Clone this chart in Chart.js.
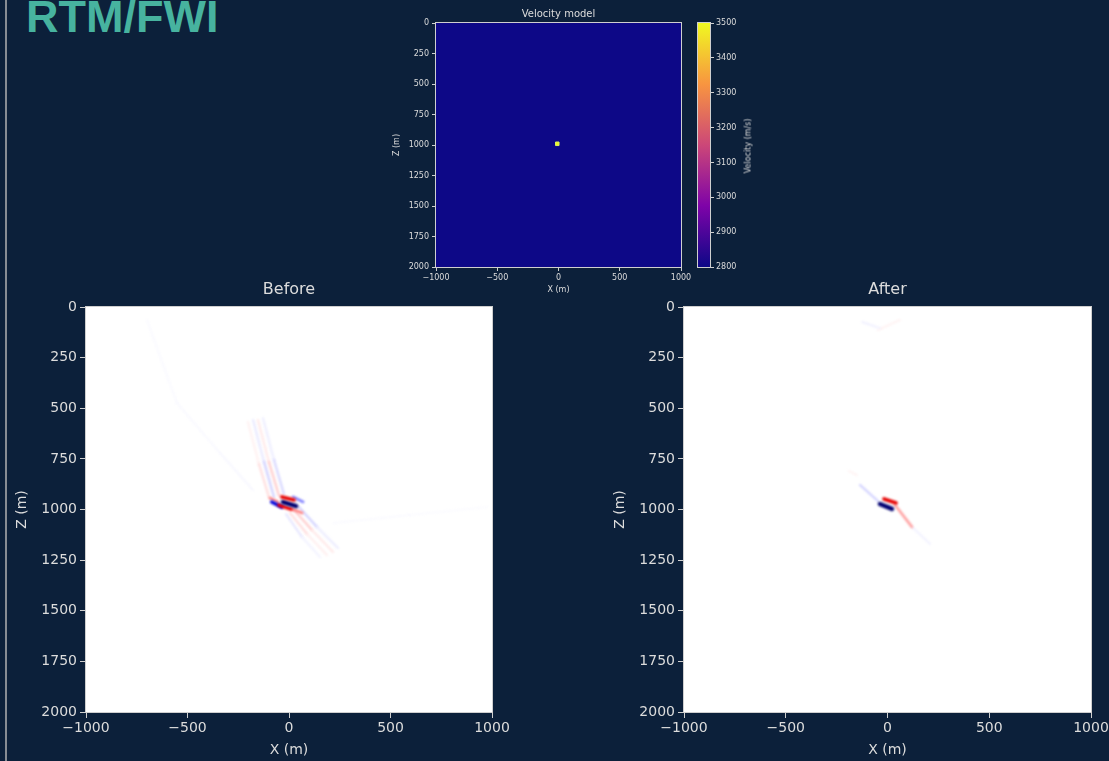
<!DOCTYPE html>
<html>
<head>
<meta charset="utf-8">
<script src="https://cdn.jsdelivr.net/npm/chart.js@4"></script>
<style>
  html, body { margin: 0; padding: 0; }
  body { width: 1109px; height: 761px; overflow: hidden; position: relative; background: #0c203a; font-family: "DejaVu Sans", sans-serif; }
  #rule { position: absolute; left: 5px; top: 0; width: 2px; height: 761px; background: #878c93; }
  #heading { position: absolute; left: 26px; top: -5px; margin: 0; font: bold 45px/44px "Liberation Sans", Arial, sans-serif; color: #47b39f; }
  canvas { position: absolute; }
  #cbLabel { position: absolute; left: 748px; top: 146px; transform: translate(-50%, -50%) rotate(-90deg); color: #d6d6d6; font: 8px "DejaVu Sans", sans-serif; white-space: nowrap; }
</style>
</head>
<body>
<div id="rule"></div>
<h1 id="heading">RTM/FWI</h1>
<canvas id="velocity" width="316" height="300" style="left:380px;top:0"></canvas>
<canvas id="colorbar" width="80" height="300" style="left:690px;top:0"></canvas>
<div id="cbLabel">Velocity (m/s)</div>
<canvas id="before" width="530" height="486" style="left:0;top:275px"></canvas>
<canvas id="after" width="530" height="486" style="left:598px;top:275px"></canvas>
<script>
const xTicks = [-1000, -500, 0, 500, 1000];
const zTicks = [0, 250, 500, 750, 1000, 1250, 1500, 1750, 2000];
const velTicks = [2800, 2900, 3000, 3100, 3200, 3300, 3400, 3500];

// velocity model: constant background plus one fast point
const velBackground = 2800;
const anomalyX = [-10];
const anomalyZ = [990];
const anomalyV = [3500];

// image stripes: polylines in (x, z), amplitude per vertex (-1 blue .. +1 red)
const beforeX = [
  [-35, 25], [-30, 35], [-50, 10], [-85, -35], [-95, -55], [20, 70], [15, 65],
  [-153, -99, -49], [-177, -123, -74], [-202, -148, -99], [-128, -74, -25],
  [25, 113, 217], [49, 138, 241], [5, 89, 187], [-15, 64, 153],
  [-700, -552, -340, -177], [217, 596, 975]
];
const beforeZ = [
  [938, 953], [963, 983], [978, 998], [963, 988], [943, 963], [938, 963], [998, 1017],
  [558, 765, 933], [558, 765, 938], [568, 775, 938], [548, 755, 923],
  [1002, 1101, 1210], [988, 1086, 1190], [1017, 1121, 1225], [1022, 1136, 1235],
  [64, 474, 721, 904], [1067, 1027, 988]
];
const beforeAmp = [
  [0.6, 0.6], [-0.9, -0.9], [0.55, 0.55], [-0.6, -0.6], [0.25, 0.25], [-0.25, -0.25], [0.25, 0.25],
  [0.02, 0.07, 0.13], [-0.02, -0.07, -0.12], [0.01, 0.05, 0.09], [-0.01, -0.06, -0.1],
  [0.13, 0.07, 0.02], [-0.12, -0.06, -0.015], [0.09, 0.05, 0.015], [-0.07, -0.04, -0.01],
  [-0.01, -0.012, -0.015, -0.02], [-0.01, -0.01, -0.006]
];

const afterX = [
  [-37, 22], [-17, 42], [37, 120], [-135, -47], [120, 209], [-190, -150], [-125, -37], [-47, 61]
];
const afterZ = [
  [973, 997], [948, 968], [978, 1086], [879, 958], [1086, 1170], [810, 830], [74, 104], [114, 64]
];
const afterAmp = [
  [-0.9, -0.9], [0.6, 0.6], [0.3, 0.06], [-0.03, -0.15], [-0.04, -0.02], [0.025, 0.025], [-0.03, -0.03], [0.025, 0.025]
];

const textColor = '#dcdcdc';
const spineColor = '#cfcfcf';

function seismic(a) {
  let r, g, b;
  if (a < -0.5) { const t = (a + 1) / 0.5; r = 0; g = 0; b = 0.3 + 0.7 * t; }
  else if (a < 0) { const t = (a + 0.5) / 0.5; r = t; g = t; b = 1; }
  else if (a < 0.5) { const t = a / 0.5; r = 1; g = 1 - t; b = 1 - t; }
  else { const t = (a - 0.5) / 0.5; r = 1 - 0.5 * t; g = 0; b = 0; }
  return `rgb(${Math.round(r * 255)},${Math.round(g * 255)},${Math.round(b * 255)})`;
}

const plasmaStops = ['#0d0887', '#7e03a8', '#cc4778', '#f89540', '#f0f921'];
function plasma(v) {
  const t = (v - velTicks[0]) / (velTicks[velTicks.length - 1] - velTicks[0]);
  return plasmaStops[Math.round(Math.max(0, Math.min(1, t)) * (plasmaStops.length - 1))];
}

const minus = v => String(v).replace('-', '\u2212');

// fills the plot area and draws the four spines
const frame = {
  id: 'frame',
  beforeDatasetsDraw(chart, args, opts) {
    const { ctx, chartArea: a } = chart;
    ctx.save();
    ctx.fillStyle = opts.fill;
    ctx.fillRect(a.left, a.top, a.width, a.height);
    ctx.restore();
    ctx.save();
    if (opts.blur) ctx.filter = `blur(${opts.blur}px)`;
  },
  afterDatasetsDraw(chart, args, opts) {
    const { ctx, chartArea: a } = chart;
    ctx.restore();
    ctx.save();
    ctx.strokeStyle = opts.stroke;
    ctx.lineWidth = 1;
    ctx.strokeRect(a.left - 0.5, a.top - 0.5, a.width + 1, a.height + 1);
    ctx.restore();
  }
};

function axes(size, tickLen, yWidth, xHeight, xTitlePad, yTitlePad) {
  const tickFont = { family: 'DejaVu Sans', size: size };
  const common = {
    grid: { drawOnChartArea: false, drawTicks: true, tickLength: tickLen, color: spineColor },
    border: { display: false }
  };
  return {
    x: {
      ...common, type: 'linear', min: -1000, max: 1000,
      afterBuildTicks: s => { s.ticks = xTicks.map(v => ({ value: v })); },
      afterFit: s => { s.height = xHeight; },
      ticks: { color: textColor, font: tickFont, padding: 2, maxRotation: 0, callback: minus },
      title: { display: true, text: 'X (m)', color: textColor, font: tickFont, padding: { top: 0, bottom: xTitlePad } }
    },
    y: {
      ...common, type: 'linear', min: 0, max: 2000, reverse: true,
      afterBuildTicks: s => { s.ticks = zTicks.map(v => ({ value: v })); },
      afterFit: s => { s.width = yWidth; },
      ticks: { color: textColor, font: tickFont, padding: 3, callback: minus },
      title: { display: true, text: 'Z (m)', color: textColor, font: tickFont, padding: { top: yTitlePad, bottom: 0 } }
    }
  };
}

// velocity model
new Chart(document.getElementById('velocity'), {
  type: 'scatter',
  data: {
    datasets: [{
      data: anomalyX.map((x, i) => ({ x: x, y: anomalyZ[i] })),
      pointStyle: 'rect',
      pointRadius: 2.5,
      backgroundColor: anomalyV.map(plasma),
      borderColor: '#d8f060',
      borderWidth: 1
    }]
  },
  options: {
    responsive: false,
    animation: false,
    layout: { padding: { right: 15 } },
    plugins: {
      legend: { display: false },
      tooltip: { enabled: false },
      title: { display: true, fullSize: false, text: 'Velocity model', color: textColor, font: { family: 'DejaVu Sans', size: 10, weight: 'normal' }, padding: { top: 8.5, bottom: 2.5 } },
      frame: { fill: plasma(velBackground), stroke: spineColor }
    },
    scales: axes(8, 4, 56, 33, 5, 12)
  },
  plugins: [frame]
});

// colorbar
new Chart(document.getElementById('colorbar'), {
  type: 'bar',
  data: {
    labels: ['v'],
    datasets: [{
      data: [[velTicks[0], velTicks[velTicks.length - 1]]],
      barPercentage: 1,
      categoryPercentage: 1,
      borderWidth: 0,
      backgroundColor: c => {
        const a = c.chart.chartArea;
        if (!a) return plasmaStops[0];
        const g = c.chart.ctx.createLinearGradient(0, a.bottom, 0, a.top);
        plasmaStops.forEach((col, i) => g.addColorStop(i / (plasmaStops.length - 1), col));
        return g;
      }
    }]
  },
  options: {
    responsive: false,
    animation: false,
    layout: { padding: { left: 8, top: 23, bottom: 33 } },
    plugins: {
      legend: { display: false },
      tooltip: { enabled: false },
      frame: { fill: 'rgba(0,0,0,0)', stroke: spineColor }
    },
    scales: {
      x: { display: false },
      y: {
        position: 'right', min: velTicks[0], max: velTicks[velTicks.length - 1],
        afterBuildTicks: s => { s.ticks = velTicks.map(v => ({ value: v })); },
        afterFit: s => { s.width = 60; },
        grid: { drawOnChartArea: false, drawTicks: true, tickLength: 4, color: spineColor },
        border: { display: false },
        ticks: { color: textColor, font: { family: 'DejaVu Sans', size: 8 }, padding: 2, callback: v => String(v) }
      }
    }
  },
  plugins: [frame]
});

function fieldChart(id, title, xs, zs, amps, padRight) {
  const datasets = xs.map((line, i) => {
    const amp = amps[i];
    const peak = Math.max(...amp.map(Math.abs));
    return {
      data: line.map((x, j) => ({ x: x, y: zs[i][j] })),
      showLine: true,
      pointRadius: 0,
      borderWidth: 1.8 + 3 * peak,
      borderCapStyle: 'round',
      borderJoinStyle: 'round',
      borderColor: seismic(amp[0]),
      segment: { borderColor: c => seismic((amp[c.p0DataIndex] + amp[c.p1DataIndex]) / 2) }
    };
  });
  new Chart(document.getElementById(id), {
    type: 'scatter',
    data: { datasets: datasets },
    options: {
      responsive: false,
      animation: false,
      layout: { padding: { right: padRight } },
      plugins: {
        legend: { display: false },
        tooltip: { enabled: false },
        title: { display: true, fullSize: false, text: title, color: textColor, font: { family: 'DejaVu Sans', size: 16, weight: 'normal' }, padding: { top: 5.4, bottom: 7.4 } },
        frame: { fill: '#ffffff', stroke: spineColor, blur: 1.2 }
      },
      scales: axes(14, 6, 86, 49, 2.6, 13.6)
    },
    plugins: [frame]
  });
}

fieldChart('before', 'Before', beforeX, beforeZ, beforeAmp, 38);
fieldChart('after', 'After', afterX, afterZ, afterAmp, 37);
</script>
</body>
</html>
